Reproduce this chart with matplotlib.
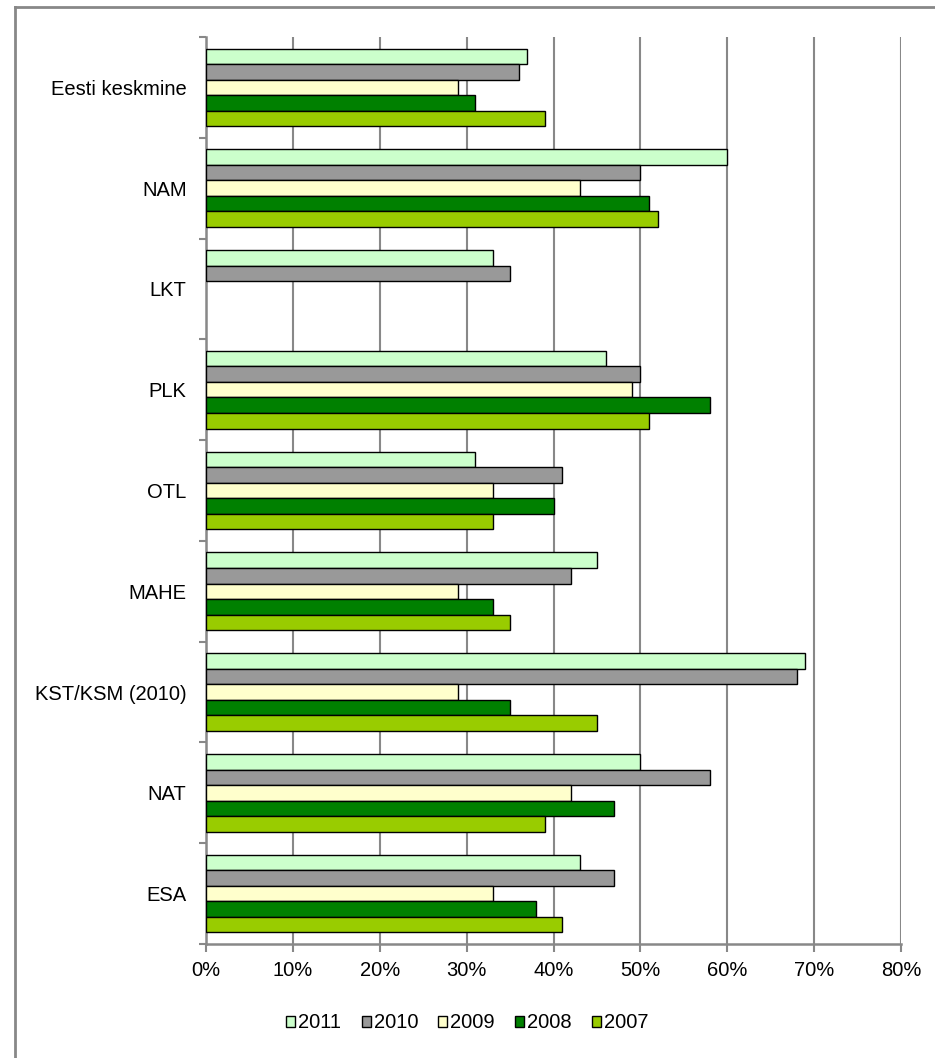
import numpy as np
import matplotlib
matplotlib.use('Agg')
import matplotlib.pyplot as plt
from matplotlib.ticker import FixedLocator, PercentFormatter
from matplotlib.lines import Line2D

# ── Data (top to bottom as drawn) ────────────────────────────────────────────
categories = ['Eesti keskmine', 'NAM', 'LKT', 'PLK', 'OTL', 'MAHE',
              'KST/KSM (2010)', 'NAT', 'ESA']
years = ['2011', '2010', '2009', '2008', '2007']

v2011 = [37, 60, 33, 46, 31, 45, 69, 50, 43]
v2010 = [36, 50, 35, 50, 41, 42, 68, 58, 47]
v2009 = [29, 43, np.nan, 49, 33, 29, 29, 42, 33]
v2008 = [31, 51, np.nan, 58, 40, 33, 35, 47, 38]
v2007 = [39, 52, np.nan, 51, 33, 35, 45, 39, 41]
series = [v2011, v2010, v2009, v2008, v2007]

colors = ['#ccffcc', '#999999', '#ffffcc', '#008000', '#99cc00']

# ── Look ─────────────────────────────────────────────────────────────────────
GRAY = '#888888'
FS = 14.5
plt.rcParams['font.family'] = ['Liberation Sans', 'DejaVu Sans']

fig = plt.figure(figsize=(9.35, 10.58), dpi=100)
W, H = 935, 1058
ax = fig.add_axes([206 / W, 1 - 944 / H, (901 - 206) / W, (944 - 37) / H])

# chart-area frame, cropped at the right and bottom like the source
fig.add_artist(Line2D([14.5 / W, 14.5 / W], [0, 1 - 7 / H], color=GRAY, lw=2))
fig.add_artist(Line2D([14.5 / W, 1], [1 - 7 / H, 1 - 7 / H], color=GRAY, lw=2))

n = len(categories)
centers = np.arange(n) + 0.5
bar_h = 0.154
for k, (vals, col, yr) in enumerate(zip(series, colors, years)):
    off = -2 * bar_h + k * bar_h
    ax.barh(centers + off, vals, height=bar_h, color=col, edgecolor='black',
            linewidth=1.0, label=yr, zorder=3)

ax.set_ylim(n, 0)
ax.set_xlim(0, 80)
ax.set_xticks(np.arange(0, 81, 10))
ax.xaxis.set_major_formatter(PercentFormatter(decimals=0))
ax.set_yticks(centers)
ax.set_yticklabels(categories)
ax.yaxis.set_minor_locator(FixedLocator(np.arange(n + 1)))

ax.xaxis.grid(True, color=GRAY, linewidth=1.5, zorder=0)
ax.set_axisbelow(True)
for side in ('top', 'right'):
    ax.spines[side].set_visible(False)
for side in ('left', 'bottom'):
    ax.spines[side].set_color(GRAY)
    ax.spines[side].set_linewidth(1.8)

ax.tick_params(axis='y', which='major', length=0, pad=14, labelsize=FS,
               labelcolor='black')
ax.tick_params(axis='y', which='minor', length=5, width=1.5, color=GRAY)
ax.tick_params(axis='x', length=5.5, width=1.5, color=GRAY, pad=7,
               labelsize=FS, labelcolor='black')

fig.legend(loc='center', bbox_to_anchor=(0.5, 1 - 1023 / H), ncol=5,
           frameon=False, fontsize=FS, handlelength=0.45,
           handleheight=0.45, handletextpad=0.15, columnspacing=1.0)

fig.savefig('out.png', dpi=100)
